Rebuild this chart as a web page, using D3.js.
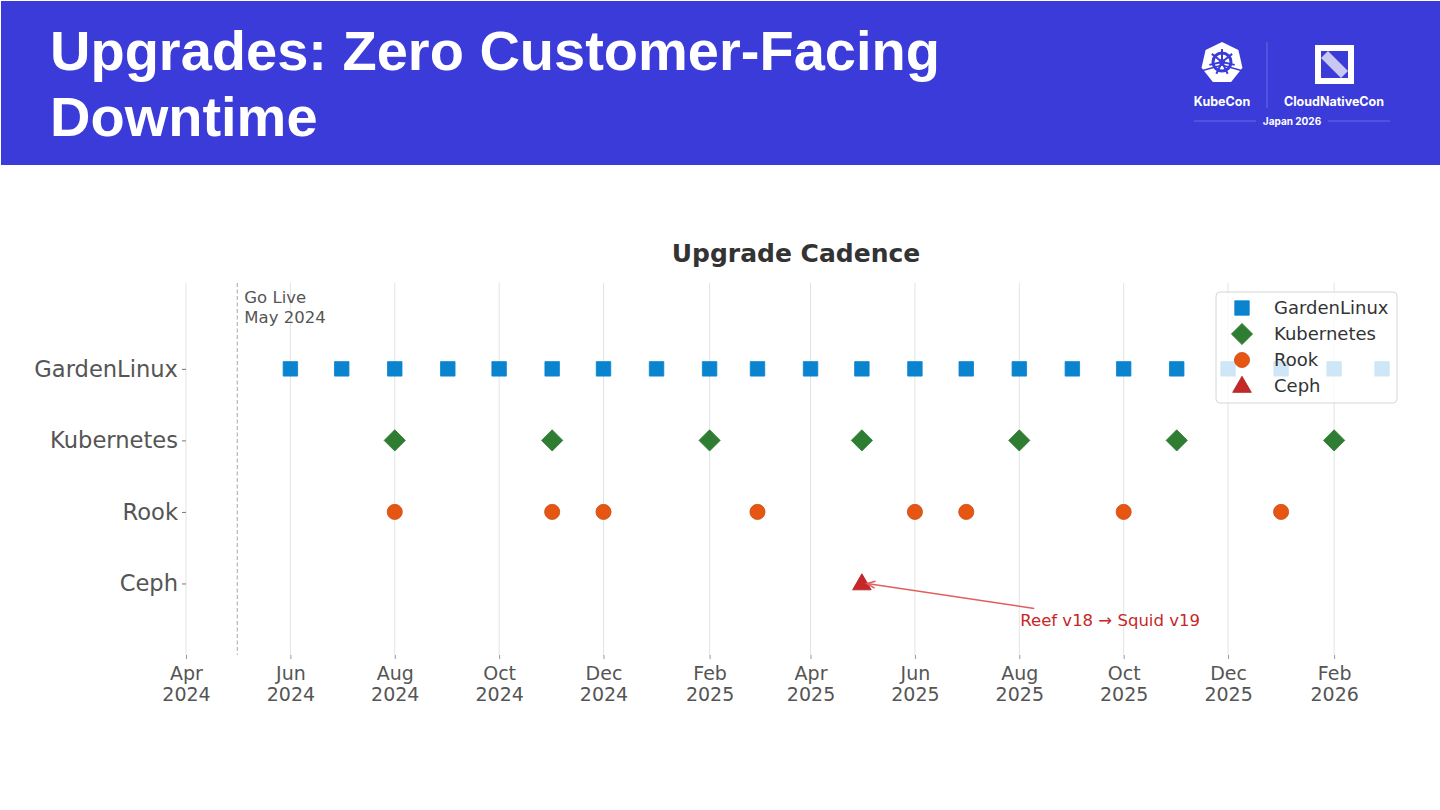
<!DOCTYPE html>
<html><head><meta charset="utf-8">
<script src="https://cdn.jsdelivr.net/npm/d3@7"></script>
<style>
html,body{margin:0;padding:0;background:#fff;}
svg{display:block;}
</style></head>
<body>
<svg id="chart" width="1440" height="810"></svg>
<script>
// ---- data ----
const categories = ["Ceph", "Rook", "Kubernetes", "GardenLinux"];
const gardenLinuxDates = ["2024-06-01","2024-07-01","2024-08-01","2024-09-01","2024-10-01","2024-11-01","2024-12-01","2025-01-01","2025-02-01","2025-03-01","2025-04-01","2025-05-01","2025-06-01","2025-07-01","2025-08-01","2025-09-01","2025-10-01","2025-11-01","2025-12-01","2026-01-01","2026-02-01","2026-03-01"];
const kubernetesDates = ["2024-08-01","2024-11-01","2025-02-01","2025-05-01","2025-08-01","2025-11-01","2026-02-01"];
const rookDates = ["2024-08-01","2024-11-01","2024-12-01","2025-03-01","2025-06-01","2025-07-01","2025-10-01","2026-01-01"];
const cephDates = ["2025-05-01"];
const tickDates = ["2024-04-01","2024-06-01","2024-08-01","2024-10-01","2024-12-01","2025-02-01","2025-04-01","2025-06-01","2025-08-01","2025-10-01","2025-12-01","2026-02-01"];
const goLiveDate = "2024-05-01";
const annotationText = "Reef v18 \u2192 Squid v19";
const annotationTextDate = "2025-08-01";
const annotationTextValue = -0.6;
const xDomain = ["2024-04-01", "2026-03-15"];
const yDomain = [-1, 4.2];

const parse = d3.utcParse("%Y-%m-%d");
const series = [
  {name:"GardenLinux", dates:gardenLinuxDates, shape:"square", color:"#0a84cf", stroke:"#0a84cf"},
  {name:"Kubernetes", dates:kubernetesDates, shape:"diamond", color:"#2e7d32", stroke:"#2e7d32"},
  {name:"Rook", dates:rookDates, shape:"circle", color:"#e65511", stroke:"#c8501a"},
  {name:"Ceph", dates:cephDates, shape:"triangle", color:"#c62828", stroke:"#a82020"}
];

const svg = d3.select("#chart");
const FONT = "'DejaVu Sans', sans-serif";

// ---- header ----
svg.append("rect").attr("x",1).attr("y",1).attr("width",1439).attr("height",164).attr("fill","#3b3bd9");
const ht = svg.append("text").attr("fill","#fff").attr("font-family","'Liberation Sans', Arial, sans-serif")
  .attr("font-weight","bold").attr("font-size",56);
ht.append("tspan").attr("x",50).attr("y",70).text("Upgrades: Zero Customer-Facing");
ht.append("tspan").attr("x",50).attr("y",136).text("Downtime");

// logo
const logo = svg.append("g");
const hcx=1222, hcy=63, hr=21;
const hept = d3.range(7).map(i=>{const a=-Math.PI/2+i*2*Math.PI/7;return [hcx+hr*Math.cos(a),hcy+hr*Math.sin(a)];});
logo.append("path").attr("d","M"+hept.map(p=>p.join(",")).join("L")+"Z").attr("fill","#fff");
logo.append("circle").attr("cx",hcx).attr("cy",hcy-1).attr("r",9).attr("fill","none").attr("stroke","#3b3bd9").attr("stroke-width",3);
d3.range(7).forEach(i=>{const a=-Math.PI/2+i*2*Math.PI/7;
  logo.append("line").attr("x1",hcx).attr("y1",hcy-1).attr("x2",hcx+13*Math.cos(a)).attr("y2",hcy-1+13*Math.sin(a)).attr("stroke","#3b3bd9").attr("stroke-width",2);});
logo.append("circle").attr("cx",hcx).attr("cy",hcy-1).attr("r",3).attr("fill","#3b3bd9");
logo.append("path").attr("d",`M${hcx-21},${hcy+8}L${hcx},${hcy+2}L${hcx+21},${hcy+8}`).attr("fill","none").attr("stroke","#3b3bd9").attr("stroke-width",1.5);
logo.append("line").attr("x1",1267).attr("x2",1267).attr("y1",42).attr("y2",108).attr("stroke","#6a6ae0").attr("stroke-width",1);
logo.append("rect").attr("x",1315).attr("y",45).attr("width",39).attr("height",39).attr("fill","#fff");
logo.append("rect").attr("x",1321).attr("y",51).attr("width",27).attr("height",27).attr("fill","#3b3bd9");
logo.append("path").attr("d","M1321,58L1328,51L1348,71L1341,78Z").attr("fill","#c8c8f2");
logo.append("text").attr("x",1222).attr("y",106).attr("text-anchor","middle").attr("fill","#fff").attr("font-family","Inter, 'Open Sans', sans-serif").attr("font-weight","bold").attr("font-size",12.5).text("KubeCon");
logo.append("text").attr("x",1334).attr("y",106).attr("text-anchor","middle").attr("fill","#fff").attr("font-family","Inter, 'Open Sans', sans-serif").attr("font-weight","bold").attr("font-size",12.5).text("CloudNativeCon");
logo.append("line").attr("x1",1194).attr("x2",1390).attr("y1",121).attr("y2",121).attr("stroke","#6a6ae0").attr("stroke-width",1);
logo.append("rect").attr("x",1256).attr("y",114).attr("width",72).attr("height",14).attr("fill","#3b3bd9");
logo.append("text").attr("x",1292).attr("y",125).attr("text-anchor","middle").attr("fill","#fff").attr("font-family","Inter, 'Open Sans', sans-serif").attr("font-weight","bold").attr("font-size",10).text("Japan 2026");

// ---- scales ----
const x = d3.scaleUtc().domain(xDomain.map(parse)).range([186, 1406]);
const y = d3.scaleLinear().domain(yDomain).range([655, 283]);
const plotTop = 283, plotBottom = 655;

// title
svg.append("text").attr("x",796).attr("y",262).attr("text-anchor","middle").attr("font-family",FONT)
  .attr("font-weight","bold").attr("font-size",25).attr("fill","#333").text("Upgrade Cadence");

// grid
const ticks = tickDates.map(parse);
svg.append("g").selectAll("line").data(ticks).join("line")
  .attr("x1",d=>x(d)).attr("x2",d=>x(d)).attr("y1",plotTop).attr("y2",plotBottom)
  .attr("stroke","#e3e3e3").attr("stroke-width",1);

// x axis
const fmtM = d3.utcFormat("%b"), fmtY = d3.utcFormat("%Y");
const xAxis = d3.axisBottom(x).tickValues(ticks).tickSize(4).tickPadding(6).tickFormat("");
const xg = svg.append("g").attr("transform",`translate(0,${plotBottom})`).call(xAxis);
xg.select(".domain").remove();
xg.selectAll(".tick line").attr("stroke","#999");
xg.selectAll(".tick text").remove();
xg.selectAll(".tick").append("text").attr("fill","#555").attr("font-family",FONT).attr("font-size",19)
  .attr("text-anchor","middle")
  .call(t=>{t.append("tspan").attr("x",0).attr("y",25).text(d=>fmtM(d));
           t.append("tspan").attr("x",0).attr("y",46).text(d=>fmtY(d));});

// y axis
const yAxis = d3.axisLeft(y).tickValues(d3.range(categories.length)).tickSize(4).tickPadding(4).tickFormat(i=>categories[i]);
const yg = svg.append("g").attr("transform","translate(186,0)").call(yAxis);
yg.select(".domain").remove();
yg.selectAll(".tick line").attr("stroke","#777");
yg.selectAll(".tick text").attr("fill","#555").attr("font-family",FONT).attr("font-size",22.6).attr("dy","0.33em");

// go live line
const gx = x(parse(goLiveDate));
svg.append("line").attr("x1",gx).attr("x2",gx).attr("y1",plotTop).attr("y2",plotBottom)
  .attr("stroke","#bbbbbb").attr("stroke-width",1.3).attr("stroke-dasharray","4,2.5");
const gl = svg.append("text").attr("font-family",FONT).attr("font-size",16.5).attr("fill","#555");
gl.append("tspan").attr("x",gx+7).attr("y",303).text("Go Live");
gl.append("tspan").attr("x",gx+7).attr("y",323).text("May 2024");

// markers
const sym = {
  square: d3.symbol().type(d3.symbolSquare).size(210),
  diamond: d3.symbol().type(d3.symbolSquare).size(225),
  circle: d3.symbol().type(d3.symbolCircle).size(180),
  triangle: d3.symbol().type(d3.symbolTriangle).size(150)
};
function drawMarker(g, s, px, py){
  const p = g.append("path").attr("d", sym[s.shape]()).attr("fill", s.color).attr("stroke", s.stroke).attr("stroke-width",0.8);
  if (s.shape==="diamond") p.attr("transform",`translate(${px},${py}) rotate(45)`);
  else if (s.shape==="triangle") p.attr("transform",`translate(${px},${py+1})`);
  else p.attr("transform",`translate(${px},${py})`);
}
const mg = svg.append("g");
series.forEach(s=>{
  const yi = categories.indexOf(s.name);
  s.dates.forEach(d=>drawMarker(mg, s, x(parse(d)), y(yi)));
});

// annotation
const tx = x(parse(cephDates[0])), ty = y(categories.indexOf("Ceph"));
const ax = x(parse(annotationTextDate)), ay = y(annotationTextValue);
const sx = ax + 15, sy = ay - 18;
const ex = tx + 5, ey = ty;
svg.append("line").attr("x1",sx).attr("y1",sy).attr("x2",ex).attr("y2",ey).attr("stroke","#e35d5d").attr("stroke-width",1.5);
const ang = Math.atan2(sy-ey, sx-ex);
const hl = 9, hw = 0.4;
svg.append("path").attr("d",`M${ex+hl*Math.cos(ang+hw)},${ey+hl*Math.sin(ang+hw)}L${ex},${ey}L${ex+hl*Math.cos(ang-hw)},${ey+hl*Math.sin(ang-hw)}`)
  .attr("fill","none").attr("stroke","#e35d5d").attr("stroke-width",1.5);
svg.append("text").attr("x",ax+1).attr("y",ay).attr("font-family",FONT).attr("font-size",16.5).attr("fill","#c62828").text(annotationText);

// legend
const lg = svg.append("g");
lg.append("rect").attr("x",1216).attr("y",292).attr("width",181).attr("height",111).attr("rx",4)
  .attr("fill","#fff").attr("fill-opacity",0.8).attr("stroke","#d6d6d6").attr("stroke-width",1);
series.forEach((s,i)=>{
  const ly = 308 + i*26;
  drawMarker(lg, s, 1242, ly);
  lg.append("text").attr("x",1274).attr("y",ly).attr("dy","0.35em").attr("font-family",FONT).attr("font-size",18).attr("fill","#333").text(s.name);
});
</script>
</body></html>
